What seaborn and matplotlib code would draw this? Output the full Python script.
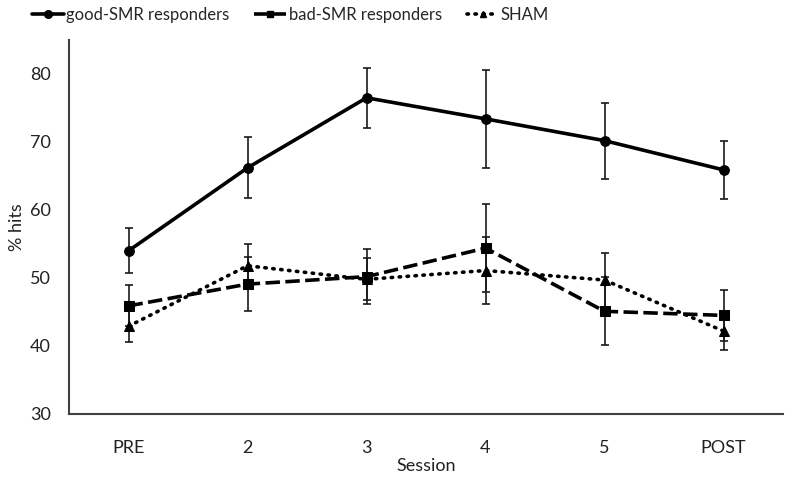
import numpy as np
import pandas as pd
import seaborn as sns
import matplotlib.pyplot as plt
from matplotlib.lines import Line2D

sessions = ["PRE", "2", "3", "4", "5", "POST"]
good_mean = [54.0, 66.2, 76.5, 73.4, 70.2, 65.9]
good_err = [3.3, 4.5, 4.4, 7.2, 5.6, 4.3]
bad_mean = [45.9, 49.1, 50.2, 54.4, 45.1, 44.5]
bad_err = [3.0, 4.0, 4.0, 6.5, 5.0, 3.8]
sham_mean = [42.9, 51.8, 49.8, 51.1, 49.7, 42.2]
sham_err = [2.3, 3.2, 3.1, 4.9, 4.0, 2.8]
series_names = ["good-SMR responders", "bad-SMR responders", "SHAM"]

sns.set_theme(style="white")
plt.rcParams["font.family"] = ["Lato", "DejaVu Sans"]

rows = []
for name, means in zip(series_names, [good_mean, bad_mean, sham_mean]):
    for i, (s, m) in enumerate(zip(sessions, means)):
        rows.append({"pos": i, "Session": s, "hits": m, "group": name})
df = pd.DataFrame(rows)

fig = plt.figure(figsize=(7.87, 4.82), dpi=100)
ax = fig.add_axes([69 / 787, 1 - 414 / 482, (783 - 69) / 787, (414 - 40) / 482])

styles = {
    "good-SMR responders": dict(ls="-", marker="o", ms=7),
    "bad-SMR responders": dict(ls=(0, (4.0, 1.5)), marker="s", ms=6.5),
    "SHAM": dict(ls=(0, (0.4, 1.8)), marker="^", ms=6.5),
}
errs = {"good-SMR responders": good_err, "bad-SMR responders": bad_err, "SHAM": sham_err}

for name in series_names:
    sub = df[df["group"] == name]
    st = styles[name]
    ax.errorbar(sub["pos"], sub["hits"], yerr=errs[name], fmt="none",
                ecolor="#1a1a1a", elinewidth=1.2, capsize=2.7, capthick=1.2, zorder=2)
    sns.lineplot(data=sub, x="pos", y="hits", ax=ax, color="black",
                 linewidth=2.6, linestyle=st["ls"], marker=st["marker"],
                 markersize=st["ms"], markeredgecolor="black", zorder=3,
                 dash_capstyle="round" if name == "SHAM" else "butt",
                 label=name, legend=False)

ax.set_xlim(-0.5, 5.5)
ax.set_ylim(30, 85)
ax.set_yticks([30, 40, 50, 60, 70, 80])
ax.set_xticks(range(len(sessions)))
ax.set_xticklabels(sessions)
ax.tick_params(axis="x", length=0, labelsize=13, colors="#222222", pad=19)
ax.tick_params(axis="y", length=0, labelsize=13, colors="#222222", pad=13)
ax.set_xlabel("Session", fontsize=13, color="#222222", labelpad=1)
ax.set_ylabel("% hits", fontsize=13, color="#222222", labelpad=4)
for sp in ["top", "right"]:
    ax.spines[sp].set_visible(False)
for sp in ["left", "bottom"]:
    ax.spines[sp].set_color("#404040")
    ax.spines[sp].set_linewidth(1.5)

handles = []
for name in series_names:
    st = styles[name]
    handles.append(Line2D([0], [0], color="black", lw=2.6, ls=st["ls"],
                          marker=st["marker"], ms=st["ms"] - 1.5,
                          dash_capstyle="round" if name == "SHAM" else "butt"))
fig.legend(handles, series_names, loc="upper left", bbox_to_anchor=(32 / 787, 1 - 7 / 482),
           ncol=3, frameon=False, fontsize=12, handlelength=1.9, handletextpad=0.15,
           columnspacing=1.5, borderpad=0, borderaxespad=0)

fig.savefig("out.png", dpi=100)
